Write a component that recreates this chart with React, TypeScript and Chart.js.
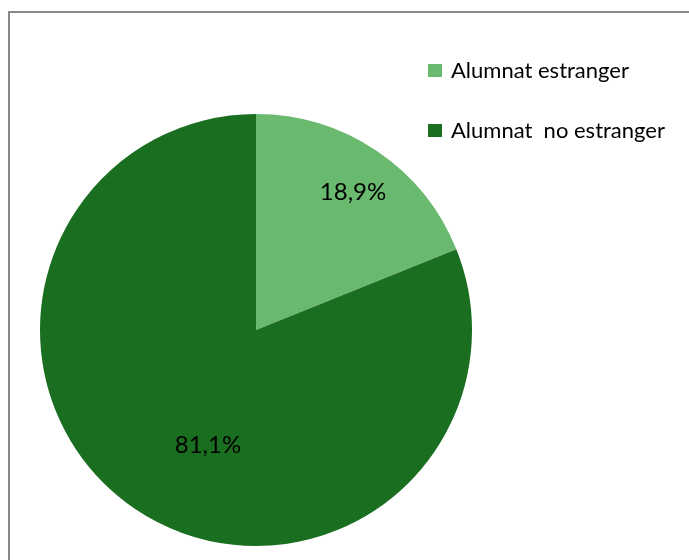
import React, { useEffect, useRef } from "react";
import { Chart, registerables } from "chart.js";

Chart.register(...registerables);

const categories = ["Alumnat estranger", "Alumnat  no estranger"];
const values = [18.9, 81.1];
const valueLabels = ["18,9%", "81,1%"];
const colors = ["#69b96f", "#1a6e1f"];

const FONT = "Lato, 'Open Sans', sans-serif";

const labelPlugin = {
  id: "sliceLabels",
  afterDatasetsDraw(chart: any) {
    const ctx = chart.ctx;
    const meta = chart.getDatasetMeta(0);
    const radial = [0.78, 0.58];
    const shift = [0.02, -0.2];
    ctx.save();
    ctx.fillStyle = "#000";
    ctx.font = `24px ${FONT}`;
    ctx.textAlign = "center";
    ctx.textBaseline = "middle";
    meta.data.forEach((arc: any, i: number) => {
      const p = arc.getProps(["x", "y", "startAngle", "endAngle", "outerRadius"], true);
      const mid = (p.startAngle + p.endAngle) / 2 + shift[i];
      const r = p.outerRadius * radial[i];
      ctx.fillText(valueLabels[i], p.x + Math.cos(mid) * r, p.y + Math.sin(mid) * r);
    });
    ctx.restore();
  },
};

const legendPlugin = {
  id: "sideLegend",
  afterDraw(chart: any) {
    const ctx = chart.ctx;
    ctx.save();
    ctx.font = `22px ${FONT}`;
    ctx.textBaseline = "alphabetic";
    ctx.textAlign = "left";
    categories.forEach((c, i) => {
      const y = 64 + i * 60;
      ctx.fillStyle = colors[i];
      ctx.fillRect(428, y, 14, 13);
      ctx.fillStyle = "#000";
      ctx.fillText(c, 451, y + 14);
    });
    ctx.restore();
  },
};

export default function App() {
  const ref = useRef<HTMLCanvasElement | null>(null);
  useEffect(() => {
    if (!ref.current) return;
    const chart = new Chart(ref.current, {
      type: "pie",
      data: {
        labels: categories,
        datasets: [
          {
            data: values,
            backgroundColor: colors,
            borderWidth: 0,
          },
        ],
      },
      options: {
        animation: false,
        responsive: false,
        maintainAspectRatio: false,
        layout: { padding: { left: 40, right: 217, top: 114, bottom: 14 } },
        plugins: {
          legend: { display: false },
          tooltip: { enabled: false },
        },
      },
      plugins: [labelPlugin, legendPlugin],
    });
    return () => chart.destroy();
  }, []);

  return (
    <div style={{ position: "absolute", left: 0, top: 0, width: 689, height: 560, overflow: "hidden", background: "#fff" }}>
      <div
        style={{
          position: "absolute",
          left: 8,
          top: 11,
          width: 700,
          height: 600,
          borderLeft: "2px solid #888",
          borderTop: "2px solid #888",
        }}
      />
      <canvas ref={ref} width={689} height={560} style={{ position: "absolute", left: 0, top: 0 }} />
    </div>
  );
}
